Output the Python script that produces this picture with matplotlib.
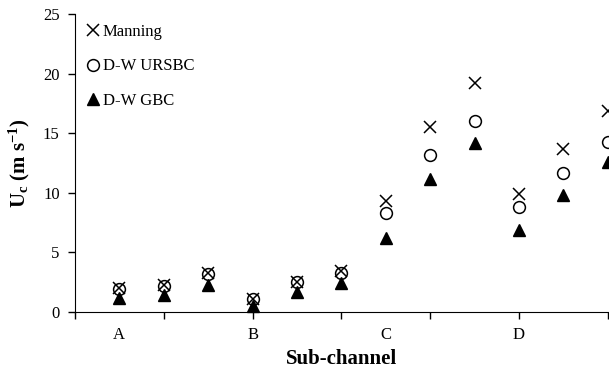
import matplotlib.pyplot as plt

plt.rcParams['font.family'] = ['Liberation Serif', 'DejaVu Serif']
plt.rcParams['mathtext.fontset'] = 'custom'
plt.rcParams['mathtext.rm'] = 'Liberation Serif:bold'
plt.rcParams['mathtext.it'] = 'Liberation Serif:bold'

# sub-channel positions (3 points per group) and values
x_pos = [0.5, 1.0, 1.5, 2.0, 2.5, 3.0, 3.5, 4.0, 4.5, 5.0, 5.5, 6.0]
manning = [2.0, 2.3, 3.3, 1.1, 2.5, 3.4, 9.3, 15.5, 19.2, 9.9, 13.7, 16.9]
dw_ursbc = [1.9, 2.2, 3.2, 1.1, 2.5, 3.3, 8.3, 13.2, 16.0, 8.8, 11.7, 14.3]
dw_gbc = [1.2, 1.4, 2.3, 0.5, 1.7, 2.4, 6.2, 11.2, 14.2, 6.9, 9.8, 12.6]
group_pos = [0.5, 2.0, 3.5, 5.0]
group_labels = ["A", "B", "C", "D"]

fig = plt.figure(figsize=(6.09, 3.71), dpi=100)
ax = fig.add_axes([0.123, 0.159, 0.875, 0.803])

ax.plot(x_pos, manning, linestyle="none", marker="x", markersize=9,
        markeredgewidth=1.1, color="black", label="Manning", clip_on=False)
ax.plot(x_pos, dw_ursbc, linestyle="none", marker="o", markersize=8.5,
        markerfacecolor="none", markeredgewidth=1.1, color="black",
        label="D-W URSBC", clip_on=False)
ax.plot(x_pos, dw_gbc, linestyle="none", marker="^", markersize=9,
        color="black", label="D-W GBC", clip_on=False)

ax.set_xlim(0, 6)
ax.set_ylim(0, 25)
ax.set_yticks([0, 5, 10, 15, 20, 25])
ax.xaxis.remove_overlapping_locs = False
ax.set_xticks(range(7))
ax.set_xticklabels([])
ax.set_xticks(group_pos, minor=True)
ax.set_xticklabels(group_labels, minor=True)
ax.tick_params(axis="x", which="minor", length=0, pad=11, labelsize=12)
ax.tick_params(axis="both", which="major", direction="out", length=5,
               width=1, labelsize=12)
ax.tick_params(axis="y", pad=6)

for side in ["top", "right"]:
    ax.spines[side].set_visible(False)

ax.set_xlabel("Sub-channel", fontsize=15, fontweight="bold", labelpad=4)
ax.set_ylabel(r"U$_\mathregular{c}$ (m s$^{\mathregular{-1}}$)", fontsize=15,
              fontweight="bold", labelpad=8)

ax.legend(loc="upper left", frameon=False, handlelength=0.6, handletextpad=0.3,
          labelspacing=1.1, fontsize=12, borderaxespad=0.2,
          bbox_to_anchor=(0.005, 1.0))

plt.savefig("out.png", dpi=100)
